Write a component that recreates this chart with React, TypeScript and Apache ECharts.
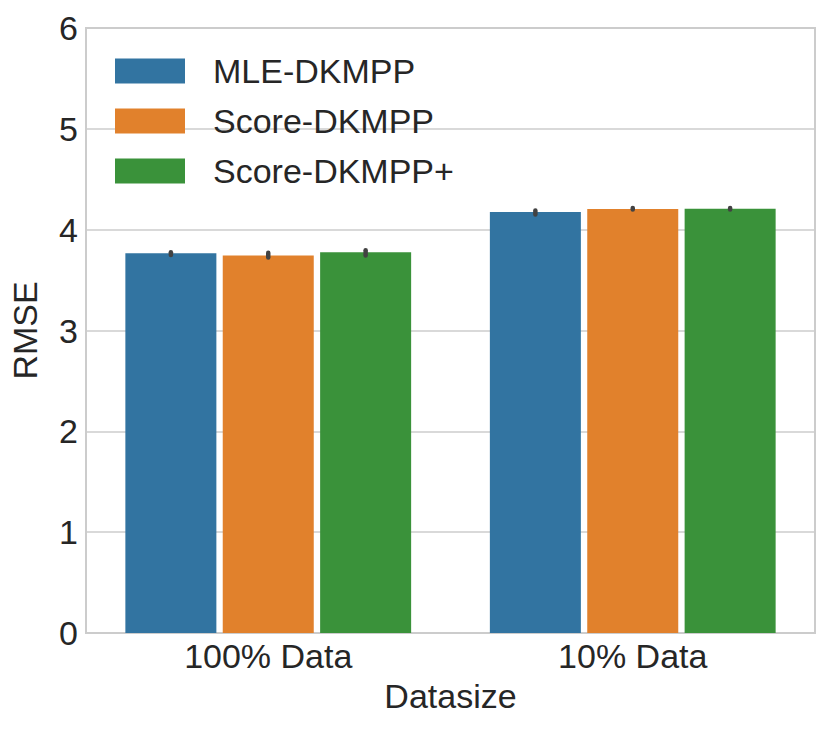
import React, { useEffect, useRef } from "react";
import * as echarts from "echarts";

const categories = ["100% Data", "10% Data"];
const seriesNames = ["MLE-DKMPP", "Score-DKMPP", "Score-DKMPP+"];
const mleValues = [3.765, 4.175];
const scoreValues = [3.745, 4.205];
const scorePlusValues = [3.775, 4.207];
const mleErr = [[3.75, 3.775], [4.15, 4.19]];
const scoreErr = [[3.725, 3.77], [4.2, 4.215]];
const scorePlusErr = [[3.745, 3.795], [4.2, 4.215]];
const yTicks = [0, 1, 2, 3, 4, 5, 6];
const colors = ["#3274a1", "#e1812c", "#3a923a"];

const FONT = "'Liberation Sans', Arial, sans-serif";
const TEXT = "#262626";
const CAT_GAP = 0.216;
const BAR_GAP = 0.07;

export default function App() {
  const ref = useRef<HTMLDivElement>(null);
  useEffect(() => {
    document.body.style.margin = "0";
    const chart = echarts.init(ref.current!, null, { renderer: "svg" });
    const values = [mleValues, scoreValues, scorePlusValues];
    const errs = [mleErr, scoreErr, scorePlusErr];
    const errData: number[][] = [];
    errs.forEach((e, s) => e.forEach((r, c) => errData.push([c, r[0], r[1], s])));
    chart.setOption({
      animation: false,
      textStyle: { fontFamily: FONT, color: TEXT },
      grid: { left: 82, right: 16, top: 28, bottom: 97, show: true, borderColor: "#cccccc", borderWidth: 2, containLabel: false },
      legend: {
        data: seriesNames,
        orient: "vertical",
        left: 115,
        top: 54,
        padding: 0,
        itemWidth: 70,
        itemHeight: 25,
        itemGap: 16,
        icon: "rect",
        textStyle: { fontSize: 34, color: TEXT, fontFamily: FONT, padding: [0, 0, 0, 23] },
      },
      xAxis: {
        type: "category",
        data: categories,
        name: "Datasize",
        nameLocation: "middle",
        nameGap: 46,
        nameTextStyle: { fontSize: 34, color: TEXT, fontFamily: FONT },
        axisLine: { show: false },
        axisTick: { show: false },
        axisLabel: { fontSize: 34, color: TEXT, fontFamily: FONT, margin: 6 },
      },
      yAxis: {
        type: "value",
        min: yTicks[0],
        max: yTicks[yTicks.length - 1],
        interval: 1,
        name: "RMSE",
        nameLocation: "middle",
        nameGap: 44,
        nameTextStyle: { fontSize: 34, color: TEXT, fontFamily: FONT },
        axisLine: { show: false },
        axisTick: { show: false },
        splitLine: { lineStyle: { color: "#cccccc", width: 1.5 } },
        axisLabel: { fontSize: 34, color: TEXT, fontFamily: FONT, margin: 8 },
      },
      series: [
        ...seriesNames.map((n, i) => ({
          name: n,
          type: "bar",
          data: values[i],
          barCategoryGap: CAT_GAP * 100 + "%",
          barGap: BAR_GAP * 100 + "%",
          itemStyle: { color: colors[i] },
        })),
        {
          type: "custom",
          name: "err",
          data: errData,
          z: 10,
          renderItem: (params: any, api: any) => {
            const cat = api.value(0);
            const lo = api.value(1);
            const hi = api.value(2);
            const s = api.value(3);
            const catW = api.size([1, 0])[0];
            const w = (catW * (1 - CAT_GAP)) / (3 + 2 * BAR_GAP);
            const off = (s - 1) * w * (1 + BAR_GAP);
            const p1 = api.coord([cat, hi]);
            const p2 = api.coord([cat, lo]);
            return {
              type: "line",
              shape: { x1: p1[0] + off, y1: p1[1], x2: p1[0] + off, y2: p2[1] },
              style: { stroke: "#424242", lineWidth: 4.5, lineCap: "round" },
            };
          },
        },
      ],
    });
    return () => chart.dispose();
  }, []);
  return <div ref={ref} style={{ width: 831, height: 730 }} />;
}
